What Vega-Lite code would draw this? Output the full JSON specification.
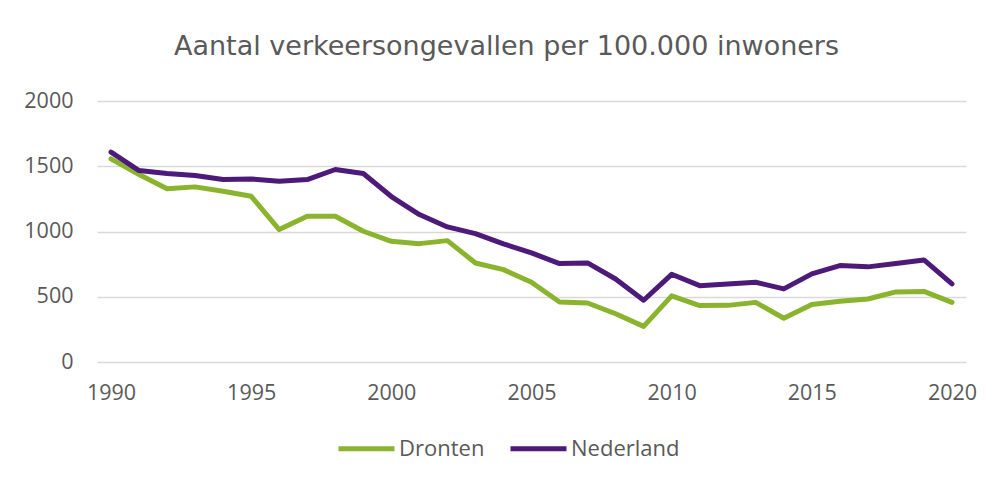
{
  "$schema": "https://vega.github.io/schema/vega-lite/v6.json",
  "autosize": "none",
  "width": 869,
  "height": 261,
  "padding": {"left": 97, "top": 101, "right": 26, "bottom": 115},
  "background": "white",
  "title": {
    "text": "Aantal verkeersongevallen per 100.000 inwoners",
    "font": "DejaVu Sans",
    "fontSize": 27,
    "fontWeight": "normal",
    "color": "#595959",
    "anchor": "middle",
    "dx": -25,
    "offset": 29
  },
  "data": {
    "values": [
      {"jaar": 1990, "reeks": "Dronten", "waarde": 1557},
      {"jaar": 1991, "reeks": "Dronten", "waarde": 1437},
      {"jaar": 1992, "reeks": "Dronten", "waarde": 1327},
      {"jaar": 1993, "reeks": "Dronten", "waarde": 1342},
      {"jaar": 1994, "reeks": "Dronten", "waarde": 1309},
      {"jaar": 1995, "reeks": "Dronten", "waarde": 1270},
      {"jaar": 1996, "reeks": "Dronten", "waarde": 1015},
      {"jaar": 1997, "reeks": "Dronten", "waarde": 1117},
      {"jaar": 1998, "reeks": "Dronten", "waarde": 1117},
      {"jaar": 1999, "reeks": "Dronten", "waarde": 1002},
      {"jaar": 2000, "reeks": "Dronten", "waarde": 925},
      {"jaar": 2001, "reeks": "Dronten", "waarde": 907},
      {"jaar": 2002, "reeks": "Dronten", "waarde": 930},
      {"jaar": 2003, "reeks": "Dronten", "waarde": 759},
      {"jaar": 2004, "reeks": "Dronten", "waarde": 708},
      {"jaar": 2005, "reeks": "Dronten", "waarde": 611},
      {"jaar": 2006, "reeks": "Dronten", "waarde": 460},
      {"jaar": 2007, "reeks": "Dronten", "waarde": 452},
      {"jaar": 2008, "reeks": "Dronten", "waarde": 370},
      {"jaar": 2009, "reeks": "Dronten", "waarde": 273},
      {"jaar": 2010, "reeks": "Dronten", "waarde": 507},
      {"jaar": 2011, "reeks": "Dronten", "waarde": 432},
      {"jaar": 2012, "reeks": "Dronten", "waarde": 434},
      {"jaar": 2013, "reeks": "Dronten", "waarde": 457},
      {"jaar": 2014, "reeks": "Dronten", "waarde": 335},
      {"jaar": 2015, "reeks": "Dronten", "waarde": 440},
      {"jaar": 2016, "reeks": "Dronten", "waarde": 465},
      {"jaar": 2017, "reeks": "Dronten", "waarde": 483},
      {"jaar": 2018, "reeks": "Dronten", "waarde": 537},
      {"jaar": 2019, "reeks": "Dronten", "waarde": 541},
      {"jaar": 2020, "reeks": "Dronten", "waarde": 457},
      {"jaar": 1990, "reeks": "Nederland", "waarde": 1608},
      {"jaar": 1991, "reeks": "Nederland", "waarde": 1467},
      {"jaar": 1992, "reeks": "Nederland", "waarde": 1444},
      {"jaar": 1993, "reeks": "Nederland", "waarde": 1429},
      {"jaar": 1994, "reeks": "Nederland", "waarde": 1398},
      {"jaar": 1995, "reeks": "Nederland", "waarde": 1403},
      {"jaar": 1996, "reeks": "Nederland", "waarde": 1385},
      {"jaar": 1997, "reeks": "Nederland", "waarde": 1398},
      {"jaar": 1998, "reeks": "Nederland", "waarde": 1475},
      {"jaar": 1999, "reeks": "Nederland", "waarde": 1444},
      {"jaar": 2000, "reeks": "Nederland", "waarde": 1268},
      {"jaar": 2001, "reeks": "Nederland", "waarde": 1130},
      {"jaar": 2002, "reeks": "Nederland", "waarde": 1035},
      {"jaar": 2003, "reeks": "Nederland", "waarde": 984},
      {"jaar": 2004, "reeks": "Nederland", "waarde": 905},
      {"jaar": 2005, "reeks": "Nederland", "waarde": 836},
      {"jaar": 2006, "reeks": "Nederland", "waarde": 754},
      {"jaar": 2007, "reeks": "Nederland", "waarde": 759},
      {"jaar": 2008, "reeks": "Nederland", "waarde": 636},
      {"jaar": 2009, "reeks": "Nederland", "waarde": 473},
      {"jaar": 2010, "reeks": "Nederland", "waarde": 672},
      {"jaar": 2011, "reeks": "Nederland", "waarde": 585},
      {"jaar": 2012, "reeks": "Nederland", "waarde": 598},
      {"jaar": 2013, "reeks": "Nederland", "waarde": 611},
      {"jaar": 2014, "reeks": "Nederland", "waarde": 560},
      {"jaar": 2015, "reeks": "Nederland", "waarde": 675},
      {"jaar": 2016, "reeks": "Nederland", "waarde": 739},
      {"jaar": 2017, "reeks": "Nederland", "waarde": 729},
      {"jaar": 2018, "reeks": "Nederland", "waarde": 754},
      {"jaar": 2019, "reeks": "Nederland", "waarde": 782},
      {"jaar": 2020, "reeks": "Nederland", "waarde": 598}
    ]
  },
  "mark": {"type": "line", "strokeWidth": 5, "strokeCap": "round", "strokeJoin": "round"},
  "encoding": {
    "x": {
      "field": "jaar",
      "type": "quantitative",
      "scale": {"domain": [1989.5, 2020.5], "nice": false, "zero": false},
      "axis": {
        "title": null,
        "values": [1990, 1995, 2000, 2005, 2010, 2015, 2020],
        "format": "d",
        "grid": false,
        "domain": false,
        "ticks": false,
        "labelPadding": 20,
        "labelFont": "Open Sans",
        "labelFontSize": 21.5,
        "labelColor": "#595959"
      }
    },
    "y": {
      "field": "waarde",
      "type": "quantitative",
      "scale": {"domain": [0, 2000], "nice": false},
      "axis": {
        "title": null,
        "values": [0, 500, 1000, 1500, 2000],
        "format": "d",
        "grid": true,
        "gridColor": "#d9d9d9",
        "gridWidth": 1.5,
        "domain": false,
        "ticks": false,
        "labelPadding": 24,
        "labelFont": "Open Sans",
        "labelFontSize": 21.5,
        "labelColor": "#595959"
      }
    },
    "color": {
      "field": "reeks",
      "type": "nominal",
      "scale": {"domain": ["Dronten", "Nederland"], "range": ["#8ab42e", "#4d1a79"]},
      "legend": {
        "title": null,
        "orient": "none",
        "direction": "horizontal",
        "legendX": 239,
        "legendY": 317,
        "symbolType": "stroke",
        "symbolSize": 3136,
        "symbolStrokeWidth": 5,
        "labelFont": "Open Sans",
        "labelFontSize": 22,
        "labelColor": "#595959",
        "labelOffset": 2,
        "columnPadding": 15
      }
    }
  },
  "config": {"view": {"stroke": null}}
}
